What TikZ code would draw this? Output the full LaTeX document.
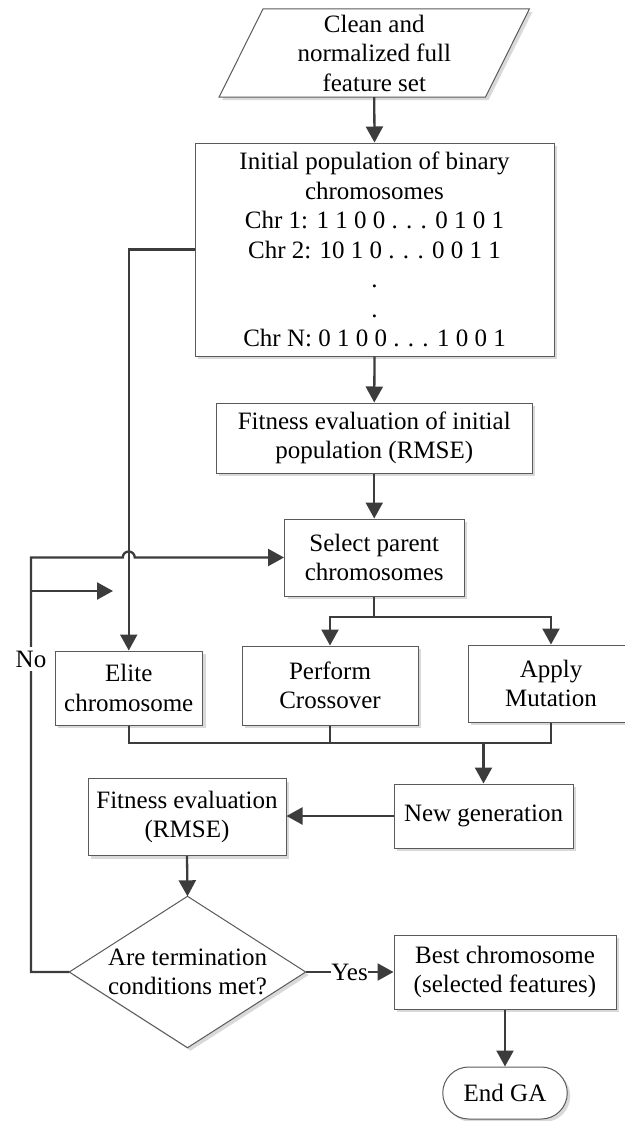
\documentclass[tikz,border=0pt]{standalone}
\usepackage{fontspec}
\setmainfont{Liberation Serif}
\usetikzlibrary{arrows.meta,shadows,backgrounds}
\definecolor{lnc}{HTML}{3C3C3C}
\definecolor{bdc}{HTML}{5A5A5A}
\begin{document}
\begin{tikzpicture}[x=1pt,y=-1pt,
  every node/.style={font=\fontsize{25}{29.5}\selectfont, inner sep=0pt, align=center},
  shd/.style={drop shadow={shadow xshift=3pt,shadow yshift=-3pt,fill=black!15,opacity=1}},
  box/.style={draw=bdc, line width=1pt, fill=white, shd},
  ln/.style={draw=lnc, line width=2.3pt},
  arr/.style={ln, -{Triangle[length=16pt,width=17pt]}},
]
\useasboundingbox (0,0) rectangle (624,1121);

% nodes
\node[minimum width=266pt, minimum height=88pt] (in) at (374.25,53) {Clean and\\normalized full\\feature set};
\node[box, minimum width=359pt, minimum height=213pt] (init) at (374.5,249.5) {Initial population of binary\\chromosomes\\Chr 1: 1 1 0 0 . . . 0 1 0 1\\Chr 2: 10 1 0 . . . 0 0 1 1\\.\\.\\Chr N: 0 1 0 0 . . . 1 0 0 1};
\node[box, minimum width=316pt, minimum height=70pt] (fit0) at (374.25,438) {Fitness evaluation of initial\\population (RMSE)};
\node[box, minimum width=179.5pt, minimum height=77pt] (select) at (374.25,557.5) {Select parent\\chromosomes};
\node[box, minimum width=147.5pt, minimum height=74pt] (elite) at (128.75,688) {Elite\\chromosome};
\node[box, minimum width=176pt, minimum height=79pt] (perform) at (330,685.5) {Perform\\Crossover};
\node[box, minimum width=166pt, minimum height=77pt] (apply) at (551,683.5) {Apply\\Mutation};
\node[box, minimum width=179pt, minimum height=64pt] (newgen) at (483.5,816) {New generation};
\node[box, minimum width=198pt, minimum height=77pt] (fit) at (187,817) {Fitness evaluation\\(RMSE)};
\node[minimum width=236pt, minimum height=151pt] (dec) at (187.5,972) {Are termination\\conditions met?};
\node[box, minimum width=222pt, minimum height=74pt] (best) at (505,972) {Best chromosome\\(selected features)};
\node[box, rounded corners=26pt, minimum width=124.5pt, minimum height=52pt] (end) at (505,1093) {End GA};

\begin{pgfonlayer}{background}
\draw[box] ([xshift=22pt]in.north west) -- ([xshift=22pt]in.north east) -- ([xshift=-22pt]in.south east) -- ([xshift=-22pt]in.south west) -- cycle;
\draw[box] (dec.north) -- (dec.east) -- (dec.south) -- (dec.west) -- cycle;
\end{pgfonlayer}

% connectors
\draw[arr] (in.south) -- (init.north);
\draw[arr] (init.south) -- (fit0.north);
\draw[arr] (fit0.south) -- (select.north);
\draw[arr] (init.west) -| (elite.north);
\coordinate (s) at (374.25,617);
\draw[ln] (select.south) -- (s);
\draw[arr] (s) -| (perform.north);
\draw[arr] (s) -| (apply.north);
\coordinate (m) at (483.5,743);
\draw[ln] (elite.south) |- (apply.south |- m) -- (apply.south);
\draw[ln] (perform.south) -- (perform.south |- m);
\draw[arr] (m) -- (newgen.north);
\draw[arr] (newgen.west) -- (newgen.west -| fit.east);
\draw[arr] (fit.south) -- (dec.north);
\draw[arr] (dec.east) -- node[fill=white] {Yes} (best.west);
\draw[arr] (best.south) -- (end.north);
\coordinate (lc) at (31,557.5);
\draw[arr] (dec.west) -| (lc) -- ([xshift=-6pt]elite.north |- lc) arc[start angle=180,end angle=360,radius=6] -- (select.west);
\coordinate (b1) at (31,591);
\coordinate (b2) at (113,591);
\draw[arr] (b1) -- (b2);
\node[fill=white, inner ysep=4pt, inner xsep=1pt] (no) at (31,659) {No};
\end{tikzpicture}
\end{document}
